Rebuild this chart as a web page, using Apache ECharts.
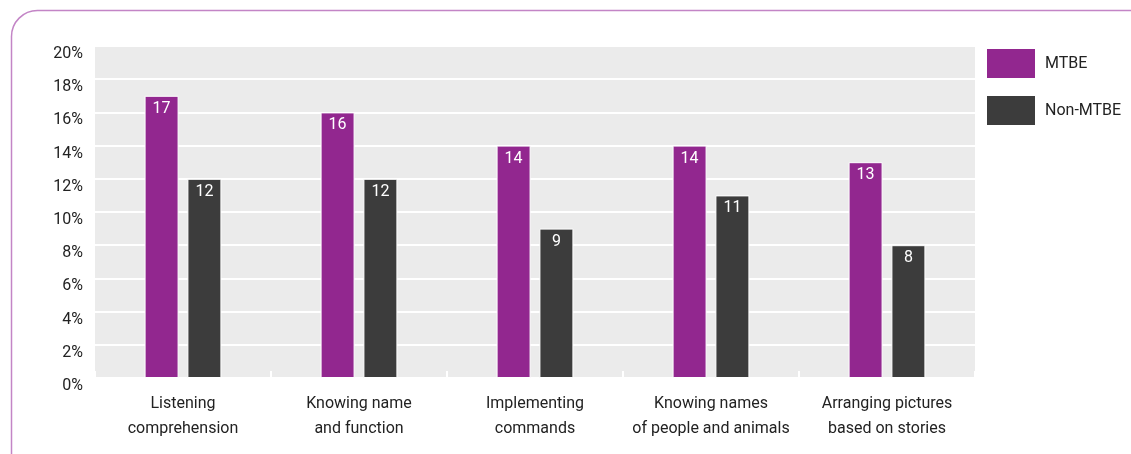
<!DOCTYPE html>
<html>
<head>
<meta charset="utf-8">
<script src="https://cdn.jsdelivr.net/npm/echarts@6/dist/echarts.min.js"></script>
<style>
  html, body { margin: 0; padding: 0; background: #fff; }
  #chart { width: 1131px; height: 454px; }
</style>
</head>
<body>
<div id="chart"></div>
<script>
const categories = [
  'Listening\ncomprehension',
  'Knowing name\nand function',
  'Implementing\ncommands',
  'Knowing names\nof people and animals',
  'Arranging pictures\nbased on stories'
]
const mtbe = [17, 16, 14, 14, 13]
const nonMtbe = [12, 12, 9, 11, 8]
const yTicks = [0, 2, 4, 6, 8, 10, 12, 14, 16, 18, 20]

const FONT = '"Liberation Sans Narrow", Roboto, sans-serif'

const chart = echarts.init(document.getElementById('chart'))

const labelStyle = {
  show: true,
  position: 'insideTop',
  distance: 5,
  color: '#fff',
  fontSize: 16,
  fontFamily: FONT,
}

chart.setOption({
  animation: false,
  graphic: [
    {
      type: 'rect',
      shape: { x: 11.5, y: 10.5, width: 1300, height: 600, r: 26 },
      style: { fill: 'none', stroke: '#c385c6', lineWidth: 1.5 },
      silent: true,
    },
  ],
  legend: {
    orient: 'vertical',
    left: 985,
    top: 47,
    padding: 0,
    itemWidth: 50,
    itemHeight: 31,
    itemGap: 14,
    icon: 'rect',
    textStyle: { fontSize: 16, fontFamily: FONT, color: '#222', padding: [0, 0, 0, 4] },
    data: ['MTBE', 'Non-MTBE'],
  },
  grid: {
    left: 95,
    right: 156,
    top: 46,
    bottom: 76,
    show: true,
    backgroundColor: '#ebebeb',
    borderWidth: 0,
  },
  xAxis: {
    type: 'category',
    data: categories,
    axisLine: { show: false },
    axisTick: { show: true, inside: true, length: 7, lineStyle: { color: '#fff', width: 2 } },
    axisLabel: {
      color: '#222',
      fontSize: 16,
      fontFamily: FONT,
      lineHeight: 25,
      margin: 13,
      interval: 0,
    },
  },
  yAxis: {
    type: 'value',
    min: yTicks[0],
    max: yTicks[yTicks.length - 1],
    interval: 2,
    axisLine: { show: false },
    axisTick: { show: false },
    splitLine: { lineStyle: { color: '#fff', width: 2 } },
    axisLabel: {
      color: '#222',
      fontSize: 16,
      fontFamily: FONT,
      margin: 12,
      verticalAlign: 'top',
      formatter: '{value}%',
    },
  },
  series: [
    {
      name: 'MTBE',
      type: 'bar',
      data: mtbe,
      barWidth: 34,
      barGap: '26%',
      itemStyle: { color: '#92278f', borderColor: '#fff', borderWidth: 1 },
      label: labelStyle,
    },
    {
      name: 'Non-MTBE',
      type: 'bar',
      data: nonMtbe,
      barWidth: 34,
      itemStyle: { color: '#3c3c3c', borderColor: '#fff', borderWidth: 1 },
      label: labelStyle,
    },
  ],
})
</script>
</body>
</html>
